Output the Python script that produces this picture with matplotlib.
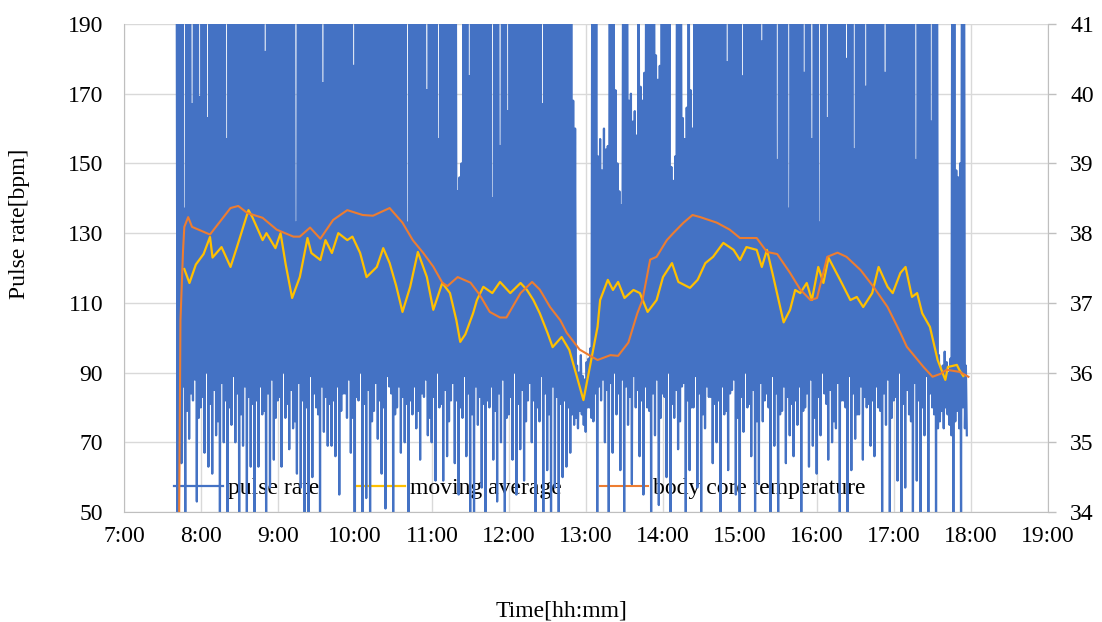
import matplotlib
matplotlib.use("Agg")
import matplotlib.pyplot as plt
import numpy as np

BLUE = "#4472C4"
YELLOW = "#FFC000"
ORANGE = "#ED7D31"
GRID = "#D9D9D9"
AXIS = "#BFBFBF"
FS = 17

plt.rcParams["font.family"] = ["Liberation Serif", "DejaVu Serif"]

# pulse sensor: one peak/trough pair every 1.5 min from 7:41
PULSE_START = "7:41"
PULSE_STEP_MIN = 1.5

pulse_peak = [
    # 7:41
    224, 214, 238, 236, 137, 222, 233, 241, 167, 209, 240, 228, 169, 245, 231, 218, 163, 233, 215, 226,
    237, 214, 223, 236, 229, 222, 157, 241, 211, 209, 235, 228, 220, 245, 232, 218, 243, 233, 216, 226,
    # 8:41
    224, 214, 238, 236, 217, 222, 182, 241, 226, 209, 240, 228, 219, 245, 231, 218, 244, 233, 215, 226,
    237, 214, 133, 236, 229, 222, 242, 241, 211, 209, 235, 228, 220, 245, 232, 218, 173, 233, 216, 226,
    # 9:41
    224, 214, 238, 236, 217, 222, 233, 241, 226, 209, 240, 228, 178, 245, 231, 218, 244, 233, 215, 226,
    237, 214, 223, 236, 229, 222, 242, 241, 211, 209, 235, 228, 220, 245, 232, 218, 243, 233, 216, 226,
    # 10:41
    133, 214, 238, 236, 217, 222, 233, 241, 226, 209, 171, 228, 219, 245, 231, 218, 157, 233, 215, 226,
    237, 214, 223, 236, 229, 222, 142, 146, 150, 209, 235, 228, 175, 245, 232, 218, 243, 233, 216, 226,
    # 11:41
    224, 214, 238, 236, 140, 222, 233, 241, 155, 209, 240, 228, 165, 245, 231, 218, 244, 233, 215, 226,
    237, 214, 223, 236, 229, 222, 242, 241, 211, 209, 167, 228, 220, 245, 232, 218, 243, 233, 216, 226,
    # 12:41
    226, 214, 238, 236, 217, 222, 168, 160, 92, 90, 95, 89, 88, 93, 94, 97, 235, 228, 219, 152,
    157, 148, 160, 154, 155, 226, 237, 214, 171, 150, 142, 138, 229, 222, 242, 168, 170, 162, 165, 158,
    # 13:41
    231, 172, 168, 176, 244, 233, 215, 226, 237, 181, 174, 178, 229, 222, 242, 241, 211, 149, 145, 152,
    235, 228, 220, 163, 157, 166, 243, 171, 160, 226, 224, 214, 238, 236, 217, 222, 233, 241, 226, 209,
    # 14:41
    224, 214, 238, 236, 217, 222, 179, 241, 226, 209, 240, 228, 219, 245, 175, 218, 244, 233, 215, 226,
    237, 214, 223, 236, 185, 222, 242, 241, 211, 209, 235, 228, 151, 245, 232, 218, 243, 233, 137, 226,
    # 15:41
    224, 214, 238, 236, 217, 222, 176, 241, 226, 209, 157, 228, 219, 245, 133, 218, 244, 233, 163, 226,
    237, 214, 223, 236, 229, 222, 242, 241, 180, 209, 235, 228, 154, 245, 232, 218, 243, 233, 172, 226,
    # 16:41
    224, 214, 238, 236, 217, 222, 233, 241, 176, 209, 240, 228, 219, 245, 231, 218, 244, 233, 215, 226,
    237, 214, 223, 236, 151, 222, 242, 241, 211, 209, 235, 228, 162, 245, 232, 226, 95, 91, 92, 96,
    # 17:41
    93, 90, 94, 236, 229, 148, 146, 150, 233, 241, 92,
]

pulse_trough = [
    # 7:41
    45, 82, 64, 86, 45, 79, 71, 84, 82, 88, 53, 77, 80, 83, 67, 90, 63, 81, 61, 85,
    72, 76, 45, 87, 70, 82, 45, 80, 75, 89, 70, 84, 45, 78, 69, 86, 45, 83, 63, 81,
    # 8:41
    45, 82, 63, 86, 78, 79, 45, 84, 57, 88, 65, 77, 82, 83, 63, 90, 77, 81, 68, 85,
    74, 76, 61, 87, 57, 82, 45, 80, 45, 89, 60, 84, 80, 78, 45, 86, 73, 83, 69, 81,
    # 9:41
    69, 82, 66, 86, 55, 79, 84, 84, 77, 88, 67, 77, 45, 83, 82, 90, 45, 81, 54, 85,
    45, 76, 79, 87, 71, 82, 61, 80, 51, 89, 86, 84, 45, 78, 80, 86, 67, 83, 70, 81,
    # 10:41
    50, 82, 78, 86, 74, 79, 65, 84, 83, 88, 72, 77, 70, 83, 59, 90, 80, 81, 59, 85,
    66, 76, 82, 87, 64, 82, 55, 80, 77, 89, 66, 84, 50, 78, 45, 86, 75, 83, 57, 81,
    # 11:41
    45, 82, 80, 86, 65, 79, 53, 84, 70, 88, 45, 77, 78, 83, 65, 90, 55, 81, 68, 85,
    59, 76, 82, 87, 70, 82, 50, 80, 76, 89, 45, 84, 62, 78, 45, 86, 57, 83, 45, 81,
    # 12:41
    60, 82, 63, 80, 67, 78, 75, 77, 74, 79, 78, 75, 73, 80, 80, 77, 76, 84, 45, 86,
    82, 88, 70, 85, 45, 87, 67, 90, 78, 84, 62, 88, 45, 86, 75, 83, 58, 89, 80, 85,
    # 13:41
    66, 82, 55, 86, 80, 79, 45, 84, 72, 88, 52, 77, 84, 83, 60, 90, 45, 81, 77, 85,
    68, 76, 86, 87, 45, 82, 62, 80, 80, 89, 57, 84, 45, 78, 74, 86, 83, 83, 64, 81,
    # 14:41
    70, 82, 45, 86, 78, 79, 62, 84, 85, 88, 55, 77, 45, 83, 73, 90, 80, 81, 66, 85,
    45, 76, 58, 87, 76, 82, 84, 80, 50, 89, 69, 84, 45, 78, 79, 86, 64, 83, 72, 81,
    # 15:41
    66, 82, 75, 86, 45, 79, 80, 84, 63, 88, 69, 77, 61, 83, 72, 90, 84, 81, 65, 85,
    70, 76, 74, 87, 45, 82, 82, 80, 45, 89, 62, 84, 71, 78, 78, 86, 65, 83, 80, 81,
    # 16:41
    69, 82, 66, 86, 80, 79, 45, 84, 75, 88, 45, 77, 82, 83, 59, 90, 45, 81, 57, 85,
    78, 76, 45, 87, 59, 82, 45, 80, 72, 89, 45, 84, 80, 78, 45, 74, 76, 79, 74, 80,
    # 17:41
    78, 75, 72, 45, 76, 79, 74, 45, 80, 74, 72,
]

ma_time = [
    "7:47", "7:51", "7:56", "8:02", "8:07", "8:09", "8:16", "8:23", "8:28", "8:37",
    "8:40", "8:48", "8:51", "8:58", "9:02", "9:06", "9:11", "9:17", "9:23", "9:26",
    "9:33", "9:37", "9:42", "9:47", "9:54", "9:58", "10:04", "10:09", "10:17", "10:22",
    "10:27", "10:32", "10:37", "10:43", "10:49", "10:56", "11:01", "11:08", "11:14", "11:19",
    "11:22", "11:26", "11:32", "11:35", "11:40", "11:47", "11:53", "12:01", "12:09", "12:14",
    "12:19", "12:24", "12:30", "12:34", "12:41", "12:47", "12:53", "12:58", "13:03", "13:09",
    "13:11", "13:17", "13:21", "13:25", "13:30", "13:37", "13:42", "13:48", "13:55", "14:00",
    "14:07", "14:12", "14:21", "14:27", "14:33", "14:39", "14:47", "14:55", "15:00", "15:05",
    "15:13", "15:17", "15:21", "15:26", "15:34", "15:39", "15:43", "15:47", "15:52", "15:56",
    "16:01", "16:05", "16:09", "16:18", "16:26", "16:31", "16:36", "16:43", "16:48", "16:55",
    "16:59", "17:05", "17:09", "17:14", "17:18", "17:22", "17:28", "17:34", "17:40", "17:42",
    "17:49", "17:51", "17:54",
]
ma_bpm = [
    119.7, 115.7, 121, 124, 128.9, 123, 126, 120.3, 126, 136.6,
    134.6, 128, 130, 125.7, 130, 121, 111.4, 117.4, 128.6, 124.3,
    122.3, 128, 124.3, 130, 128, 129, 124.3, 117.4, 120.3, 125.7,
    121.4, 115, 107.4, 114.6, 124.6, 117.4, 108, 115.7, 112.8, 105,
    98.8, 101, 107, 110.8, 114.6, 112.8, 116, 112.8, 115.7, 113.7,
    110.8, 107, 101.4, 97.3, 100.2, 96.5, 88.7, 82.1, 91.6, 103.1,
    110.8, 116.6, 113.7, 116, 111.4, 113.7, 112.8, 107.4, 110.8, 117.4,
    121.4, 116, 114.3, 116.6, 121.4, 123.2, 127.2, 125.2, 122.3, 126,
    125.2, 120.3, 125.2, 117.4, 104.4, 108, 113.7, 112.8, 115.7, 110.8,
    120.3, 115.7, 122.9, 116.6, 110.8, 111.7, 108.8, 112.8, 120.3, 114.6,
    112.8, 118.6, 120.3, 111.7, 112.8, 107, 103.1, 93.6, 87.9, 91.6,
    92.2, 90.7, 89,
]

temp_time = [
    "7:43", "7:44", "7:46", "7:47", "7:50", "7:53", "8:07", "8:23", "8:29", "8:36",
    "8:48", "8:59", "9:12", "9:17", "9:25", "9:33", "9:43", "9:54", "10:06", "10:14",
    "10:27", "10:37", "10:45", "10:53", "11:01", "11:08", "11:12", "11:20", "11:30", "11:37",
    "11:45", "11:53", "11:58", "12:09", "12:18", "12:24", "12:32", "12:40", "12:45", "12:55",
    "13:09", "13:19", "13:25", "13:33", "13:40", "13:44", "13:50", "13:55", "14:03", "14:08",
    "14:16", "14:23", "14:29", "14:42", "14:52", "15:00", "15:13", "15:21", "15:29", "15:39",
    "15:47", "15:55", "16:00", "16:08", "16:16", "16:23", "16:34", "16:44", "16:55", "17:05",
    "17:10", "17:23", "17:30", "17:36", "17:41", "17:51", "17:58",
]
core_temp = [
    34.00, 36.75, 37.75, 38.09, 38.23, 38.09, 37.98, 38.36, 38.39, 38.29,
    38.22, 38.05, 37.95, 37.95, 38.08, 37.92, 38.19, 38.33, 38.26, 38.25,
    38.36, 38.15, 37.90, 37.72, 37.52, 37.29, 37.24, 37.37, 37.29, 37.12,
    36.87, 36.79, 36.79, 37.14, 37.30, 37.19, 36.94, 36.75, 36.57, 36.33,
    36.18, 36.25, 36.24, 36.43, 36.85, 37.04, 37.62, 37.66, 37.90, 38.00,
    38.15, 38.26, 38.23, 38.15, 38.05, 37.93, 37.93, 37.73, 37.70, 37.43,
    37.19, 37.04, 37.07, 37.66, 37.72, 37.66, 37.47, 37.23, 36.94, 36.57,
    36.37, 36.08, 35.94, 35.98, 36.04, 36.01, 35.94,
]

hours = list(range(7, 20))
bpm_ticks = list(range(50, 191, 20))
temp_ticks = list(range(34, 42))


def to_hours(stamp):
    h, m = stamp.split(":")
    return int(h) + int(m) / 60.0


# interleave peaks and troughs into one sample stream
start = to_hours(PULSE_START)
step = PULSE_STEP_MIN / 60.0
n = len(pulse_peak)
peak_t = start + np.arange(n) * step
pulse_t = np.column_stack([peak_t, peak_t + step / 2]).ravel()
pulse = np.column_stack([pulse_peak, pulse_trough]).ravel()

fig = plt.figure(figsize=(11.02, 6.22), dpi=100)
ax = fig.add_axes([124 / 1102, 1 - 512 / 622, 924 / 1102, 488 / 622])
ax2 = ax.twinx()

l_pulse, = ax.plot(pulse_t, pulse, color=BLUE, lw=1.6, zorder=2, label="pulse rate")
l_ma, = ax.plot([to_hours(s) for s in ma_time], ma_bpm, color=YELLOW, lw=1.6,
                zorder=3, label="moving average")
l_temp, = ax2.plot([to_hours(s) for s in temp_time], core_temp, color=ORANGE, lw=1.5,
                   label="body core temperature")

ax.set_xlim(7, 19)
ax.set_ylim(50, 190)
ax2.set_ylim(34, 41)
ax.set_xticks(hours)
ax.set_xticklabels([f"{h}:00" for h in hours])
ax.set_yticks(bpm_ticks)
ax2.set_yticks(temp_ticks)

ax.set_axisbelow(True)
ax.grid(True, color=GRID, lw=1.0)
for side in ("top", "right"):
    ax.spines[side].set_visible(False)
for side in ("left", "bottom"):
    ax.spines[side].set_color(AXIS)
for side in ("top", "left", "bottom"):
    ax2.spines[side].set_visible(False)
ax2.spines["right"].set_color(AXIS)

ax.tick_params(axis="both", length=0, labelsize=FS, labelcolor="black")
ax.tick_params(axis="y", pad=15)
ax.tick_params(axis="x", pad=10)
ax2.tick_params(axis="y", length=6, width=1, color=AXIS, pad=10,
                labelsize=FS, labelcolor="black")

leg = ax.legend([l_pulse, l_ma, l_temp],
                ["pulse rate", "moving average", "body core temperature"],
                loc="center", bbox_to_anchor=(0.4286, 0.049), ncol=3, frameon=False,
                fontsize=FS, handlelength=2.05, handletextpad=0.22, columnspacing=1.6)
leg.set_zorder(1.5)

fig.text(20 / 1102, 1 - 224 / 622, "Pulse rate[bpm]", rotation=90,
         ha="center", va="center", fontsize=FS)
fig.text(562 / 1102, 1 - 616 / 622, "Time[hh:mm]", ha="center", va="baseline",
         fontsize=FS)

fig.savefig("out.png", dpi=100)
